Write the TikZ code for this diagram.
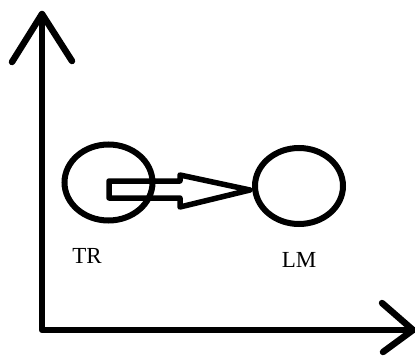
\documentclass[tikz,border=0pt]{standalone}
\usepackage{fontspec}
\setmainfont{Liberation Serif}
\usetikzlibrary{calc, shapes.geometric, positioning}

\tikzset{
    ball/.style={draw, ellipse, line width=6pt, minimum width=88pt, minimum height=76pt, inner sep=0pt},
    lbl/.style={inner sep=0pt, font=\fontsize{23}{23}\selectfont},
    axis/.style={line width=6.5pt, line cap=round, line join=round},
    hollow/.style={line width=5.5pt, line join=round}
}

\begin{document}
\begin{tikzpicture}[x=1pt, y=-1pt]
    \useasboundingbox (0,0) rectangle (415,356);
    % Hệ trục
    \coordinate (O) at (42,330);
    \coordinate (ytop) at (42,14);
    \coordinate (xtip) at (413,330);
    \draw[axis] (ytop) -- (O) -- (xtip);
    \draw[axis] ($(ytop)+(-30,48)$) -- (ytop) -- ($(ytop)+(30,47)$);
    \draw[axis] ($(xtip)+(-31,-27)$) -- (xtip) -- ($(xtip)+(-30,22)$);

    % Hai vòng tròn
    \node[ball] (TR) at (108.5,182.5) {};
    \node[ball] (LM) at (299,186) {};
    \node[lbl] (TRname) at (87,255.5) {TR};
    \node[lbl] (LMname) at (299,260) {LM};

    % Mũi tên rỗng
    \coordinate (tip) at ($(LM.west)+(-2,4)$);
    \draw[hollow] ($(TR.center)+(0.5,-1.5)$) -- ++(71,0) -- ++(0,-6)
        -- (tip) -- ($(TR.center)+(71.5,24.5)$) -- ++(0,-9) -- ++(-71,0) -- cycle;
\end{tikzpicture}
\end{document}
